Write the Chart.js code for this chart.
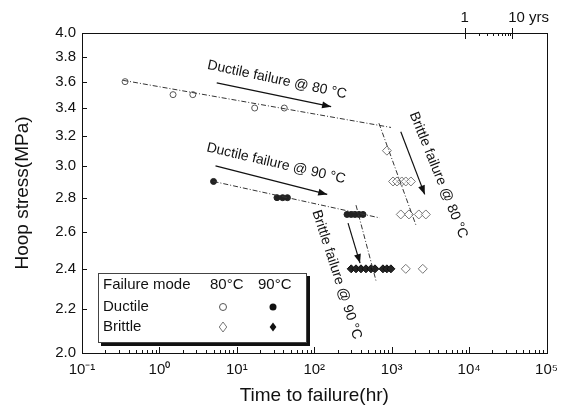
<!DOCTYPE html>
<html><head><meta charset="utf-8">
<script src="https://cdn.jsdelivr.net/npm/chart.js@4.4.0/dist/chart.umd.min.js"></script>
<style>html,body{margin:0;padding:0;background:#fff;}#wrap{width:566px;height:414px;position:relative;}</style>
</head><body><div id="wrap"><canvas id="c"></canvas></div>
<script>
// ---- tick definitions ----
const xTicks = [0.1, 1, 10, 100, 1000, 10000, 100000];
const xTickLabels = ['10\u207B\u00B9', '10\u2070', '10\u00B9', '10\u00B2', '10\u00B3', '10\u2074', '10\u2075'];
const yTicks = [2.0, 2.2, 2.4, 2.6, 2.8, 3.0, 3.2, 3.4, 3.6, 3.8, 4.0];
const topTickHours = [8760, 36000];
const topTickLabels = ['1', '10 yrs'];

// ---- data (time in hr, stress in MPa) ----
const ductile80Time = [0.36, 1.5, 2.7, 17, 41];
const ductile80Stress = [3.6, 3.5, 3.5, 3.4, 3.4];
const brittle80Time = [867, 1040, 1170, 1350, 1520, 1770, 1310, 1670, 2240, 2760, 1520, 2520];
const brittle80Stress = [3.1, 2.9, 2.9, 2.9, 2.9, 2.9, 2.7, 2.7, 2.7, 2.7, 2.4, 2.4];
const ductile90Time = [5, 33, 39, 45, 265, 300, 336, 378, 426];
const ductile90Stress = [2.9, 2.8, 2.8, 2.8, 2.7, 2.7, 2.7, 2.7, 2.7];
const brittle90Time = [300, 346, 401, 465, 540, 608, 771, 867, 977];
const brittle90Stress = [2.4, 2.4, 2.4, 2.4, 2.4, 2.4, 2.4, 2.4, 2.4];

// fitted trend lines
const fitD80Time = [0.34, 980];
const fitD80Stress = [3.61, 3.26];
const fitB80Time = [684, 2050];
const fitB80Stress = [3.29, 2.64];
const fitD90Time = [5, 700];
const fitD90Stress = [2.9, 2.68];
const fitB90Time = [346, 626];
const fitB90Stress = [2.755, 2.34];

// arrows
const arrowD80Time = [5.5, 165];
const arrowD80Stress = [3.59, 3.41];
const arrowD90Time = [5.3, 147];
const arrowD90Stress = [3.0, 2.82];
const arrowB80Time = [1310, 2670];
const arrowB80Stress = [3.23, 2.82];
const arrowB90Time = [273, 390];
const arrowB90Stress = [2.65, 2.43];

const FONT = '"Liberation Sans", Arial, sans-serif';

function pts(t, s) { return t.map((v, i) => ({ x: v, y: s[i] })); }

const annotations = [
  { text: 'Ductile failure @ 80 \u00B0C', x: 33, y: 3.615, angle: 12 },
  { text: 'Ductile failure @ 90 \u00B0C', x: 32, y: 3.015, angle: 13 },
  { text: 'Brittle failure @ 80 \u00B0C', x: 4000, y: 2.94, angle: 68 },
  { text: 'Brittle failure @ 90 \u00B0C', x: 195, y: 2.37, angle: 72 }
];

const fitStyle = { showLine: true, borderColor: '#333', borderWidth: 1, borderDash: [5, 2, 1, 2], pointRadius: 0, fill: false };
const arrowStyle = { showLine: true, borderColor: '#111', borderWidth: 1.2, pointRadius: 0, fill: false, isArrow: true };

const drawPlugin = {
  id: 'drawPlugin',
  afterDatasetsDraw(chart) {
    const { ctx, chartArea: a, scales: { x, y } } = chart;
    ctx.save();
    // arrowheads
    chart.data.datasets.forEach(ds => {
      if (!ds.isArrow) return;
      const n = ds.data.length;
      const p1 = ds.data[n - 2], p2 = ds.data[n - 1];
      const x1 = x.getPixelForValue(p1.x), y1 = y.getPixelForValue(p1.y);
      const x2 = x.getPixelForValue(p2.x), y2 = y.getPixelForValue(p2.y);
      const ang = Math.atan2(y2 - y1, x2 - x1);
      const L = 9, W = 3.5;
      ctx.fillStyle = '#111';
      ctx.beginPath();
      ctx.moveTo(x2, y2);
      ctx.lineTo(x2 - L * Math.cos(ang) + W * Math.sin(ang), y2 - L * Math.sin(ang) - W * Math.cos(ang));
      ctx.lineTo(x2 - L * Math.cos(ang) - W * Math.sin(ang), y2 - L * Math.sin(ang) + W * Math.cos(ang));
      ctx.closePath();
      ctx.fill();
    });
    // rotated annotations
    ctx.fillStyle = '#111';
    ctx.font = '14px ' + FONT;
    ctx.textAlign = 'center';
    ctx.textBaseline = 'middle';
    annotations.forEach(an => {
      ctx.save();
      ctx.translate(x.getPixelForValue(an.x), y.getPixelForValue(an.y));
      ctx.rotate(an.angle * Math.PI / 180);
      ctx.fillText(an.text, 0, 0);
      ctx.restore();
    });
    ctx.restore();
  },
  afterDraw(chart) {
    const { ctx, chartArea: a, scales: { x, y } } = chart;
    ctx.save();
    ctx.strokeStyle = '#111';
    ctx.lineWidth = 1;
    ctx.strokeRect(Math.round(a.left) + 0.5, Math.round(a.top) + 0.5, Math.round(a.right - a.left), Math.round(a.bottom - a.top));
    // bottom axis ticks (inward)
    ctx.beginPath();
    for (let d = -1; d <= 4; d++) {
      for (let k = 1; k <= 9; k++) {
        const px = Math.round(x.getPixelForValue(k * Math.pow(10, d))) + 0.5;
        const len = k === 1 ? 6 : 3;
        ctx.moveTo(px, a.bottom); ctx.lineTo(px, a.bottom - len);
      }
    }
    const pxEnd = Math.round(x.getPixelForValue(1e5)) + 0.5;
    ctx.moveTo(pxEnd, a.bottom); ctx.lineTo(pxEnd, a.bottom - 6);
    // y ticks (inward)
    yTicks.forEach(v => {
      const py = Math.round(y.getPixelForValue(v)) + 0.5;
      ctx.moveTo(a.left, py); ctx.lineTo(a.left + 5, py);
    });
    // top year axis
    const t0 = x.getPixelForValue(topTickHours[0]);
    const t1 = x.getPixelForValue(topTickHours[1]);
    [t0, t1].forEach(px => {
      const p = Math.round(px) + 0.5;
      ctx.moveTo(p, a.top); ctx.lineTo(p, a.top - 5);
      ctx.moveTo(p, a.top); ctx.lineTo(p, a.top + 6);
    });
    for (let k = 2; k <= 9; k++) {
      const p = Math.round(t0 + (t1 - t0) * Math.log10(k)) + 0.5;
      ctx.moveTo(p, a.top); ctx.lineTo(p, a.top + 3);
    }
    ctx.stroke();
    ctx.fillStyle = '#111';
    ctx.font = '15px ' + FONT;
    ctx.textBaseline = 'bottom';
    ctx.textAlign = 'center';
    ctx.fillText(topTickLabels[0], t0, a.top - 8);
    ctx.textAlign = 'left';
    ctx.fillText(topTickLabels[1], t1 - 4, a.top - 8);

    // legend table
    const lx = a.left + 16, ly = a.bottom - 80, lw = 208, lh = 69;
    ctx.fillStyle = '#111';
    ctx.fillRect(lx + 3, ly + lh, lw, 4);
    ctx.fillRect(lx + lw, ly + 3, 4, lh + 1);
    ctx.fillStyle = '#fff';
    ctx.fillRect(lx, ly, lw, lh);
    ctx.strokeStyle = '#444';
    ctx.lineWidth = 1;
    ctx.strokeRect(lx + 0.5, ly + 0.5, lw, lh);
    ctx.fillStyle = '#111';
    ctx.font = '15px ' + FONT;
    ctx.textBaseline = 'middle';
    ctx.textAlign = 'left';
    ctx.fillText('Failure mode', lx + 5, ly + 12);
    ctx.fillText('80\u00B0C', lx + 112, ly + 12);
    ctx.fillText('90\u00B0C', lx + 160, ly + 12);
    ctx.fillText('Ductile', lx + 5, ly + 34);
    ctx.fillText('Brittle', lx + 5, ly + 54);
    const c80 = lx + 125, c90 = lx + 175;
    ctx.strokeStyle = '#555';
    ctx.beginPath(); ctx.arc(c80, ly + 34, 3.5, 0, Math.PI * 2); ctx.fillStyle = '#fff'; ctx.fill(); ctx.stroke();
    ctx.fillStyle = '#111';
    ctx.beginPath(); ctx.arc(c90, ly + 34, 3.5, 0, Math.PI * 2); ctx.fill();
    const dia = (cx, cy, r) => { ctx.beginPath(); ctx.moveTo(cx, cy - r); ctx.lineTo(cx + r * 0.75, cy); ctx.lineTo(cx, cy + r); ctx.lineTo(cx - r * 0.75, cy); ctx.closePath(); };
    dia(c80, ly + 54, 5); ctx.strokeStyle = '#777'; ctx.stroke();
    dia(c90, ly + 54, 4.5); ctx.fillStyle = '#111'; ctx.fill();
    ctx.restore();
  }
};

new Chart(document.getElementById('c'), {
  type: 'scatter',
  data: {
    datasets: [
      Object.assign({ data: pts(fitD80Time, fitD80Stress) }, fitStyle),
      Object.assign({ data: pts(fitB80Time, fitB80Stress) }, fitStyle),
      Object.assign({ data: pts(fitD90Time, fitD90Stress) }, fitStyle),
      Object.assign({ data: pts(fitB90Time, fitB90Stress) }, fitStyle),
      Object.assign({ data: pts(arrowD80Time, arrowD80Stress) }, arrowStyle),
      Object.assign({ data: pts(arrowD90Time, arrowD90Stress) }, arrowStyle),
      Object.assign({ data: pts(arrowB80Time, arrowB80Stress) }, arrowStyle),
      Object.assign({ data: pts(arrowB90Time, arrowB90Stress) }, arrowStyle),
      { label: 'Ductile 80°C', data: pts(ductile80Time, ductile80Stress), pointStyle: 'circle', pointRadius: 3, borderWidth: 1, borderColor: '#555', backgroundColor: '#fff' },
      { label: 'Brittle 80°C', data: pts(brittle80Time, brittle80Stress), pointStyle: 'rectRot', pointRadius: 4.5, borderWidth: 1, borderColor: '#777', backgroundColor: 'rgba(255,255,255,0.6)' },
      { label: 'Ductile 90°C', data: pts(ductile90Time, ductile90Stress), pointStyle: 'circle', pointRadius: 3, borderWidth: 1, borderColor: '#222', backgroundColor: '#222' },
      { label: 'Brittle 90°C', data: pts(brittle90Time, brittle90Stress), pointStyle: 'rectRot', pointRadius: 4, borderWidth: 1, borderColor: '#111', backgroundColor: '#222' }
    ]
  },
  options: {
    responsive: true,
    maintainAspectRatio: false,
    animation: false,
    layout: { padding: { top: 33, right: 18, bottom: 0, left: 0 } },
    plugins: { legend: { display: false }, tooltip: { enabled: false } },
    scales: {
      x: {
        type: 'logarithmic', min: 0.1, max: 100000,
        afterBuildTicks: s => { s.ticks = xTicks.map(v => ({ value: v })); },
        afterFit: s => { s.height = 61; },
        grid: { display: false, drawTicks: false },
        border: { display: false },
        ticks: {
          autoSkip: false, maxRotation: 0, padding: 8, color: '#111',
          font: { family: FONT, size: 15 },
          callback: (v, i) => xTickLabels[i]
        },
        title: { display: true, text: 'Time to failure(hr)', color: '#111', font: { family: FONT, size: 19 }, padding: { top: 0, bottom: 7 } }
      },
      y: {
        type: 'logarithmic', min: 2.0, max: 4.0,
        afterBuildTicks: s => { s.ticks = yTicks.map(v => ({ value: v })); },
        afterFit: s => { s.width = 82; },
        grid: { display: false, drawTicks: false },
        border: { display: false },
        ticks: {
          autoSkip: false, padding: 6, color: '#111',
          font: { family: FONT, size: 15 },
          callback: v => Number(v).toFixed(1)
        },
        title: { display: true, text: 'Hoop stress(MPa)', color: '#111', font: { family: FONT, size: 19 }, padding: { top: 11, bottom: 0 } }
      }
    }
  },
  plugins: [drawPlugin]
});
</script>
</body></html>
